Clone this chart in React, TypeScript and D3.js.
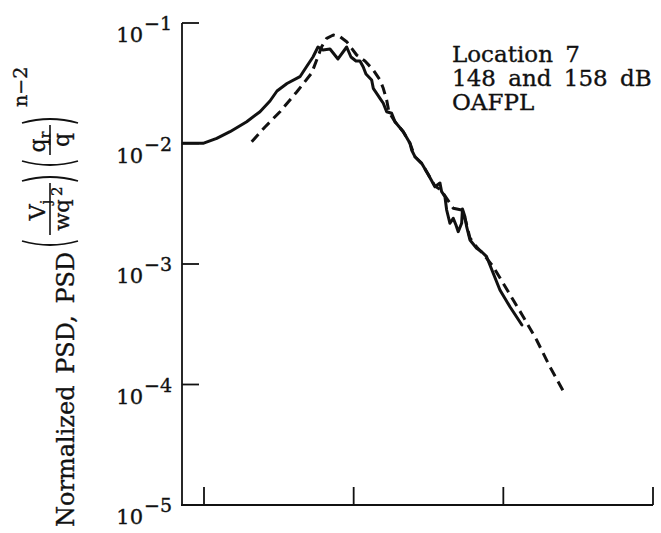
import React from 'react';
import * as d3 from 'd3';

// Normalized frequency (arbitrary log units, axis unlabeled) and normalized PSD
const solidX = [0.724, 0.985, 1.216, 1.492, 1.929, 2.366, 2.76, 3.074, 3.585, 4.377, 4.876, 5.348, 5.775, 6.235, 6.946, 7.857, 8.979, 9.594, 10.36, 11.02, 11.59, 12.08, 13.19, 13.52, 14.24, 14.99, 15.77, 16.61, 17.94, 18.88, 21.45, 23.78, 24.4, 25.67, 28.46, 31.36, 34.92, 37.72, 38.71, 40.73, 41.81, 43.99, 46.27, 48.25, 49.97, 52.66, 53.32, 55.41, 56.87, 59.84, 66.32, 71.61, 77.34, 85.59, 94.91, 110.7, 133.1];
const solidY = [0.01004, 0.01004, 0.01104, 0.01253, 0.01517, 0.01836, 0.02253, 0.02727, 0.03148, 0.03584, 0.04396, 0.05222, 0.06322, 0.05969, 0.06085, 0.05027, 0.06322, 0.05222, 0.04838, 0.04838, 0.04313, 0.03773, 0.03365, 0.02871, 0.0261, 0.02372, 0.02157, 0.01836, 0.01781, 0.01517, 0.01253, 0.01004, 0.008834, 0.007771, 0.006849, 0.005582, 0.00438, 0.0047, 0.003981, 0.003619, 0.002806, 0.002177, 0.002394, 0.002107, 0.001854, 0.002177, 0.00286, 0.00247, 0.002039, 0.001582, 0.00135, 0.001265, 0.00115, 0.0008372, 0.0006085, 0.0004422, 0.0003118];

const dashedX = [2.083, 2.556, 3.219, 4.162, 5.242, 5.66, 6.113, 6.602, 7.308, 8.1, 8.979, 9.696, 10.47, 11.9, 13.52, 14.99, 15.77, 16.61, 17.21, 18.88, 21.45, 23.78, 25.67, 28.46, 31.36, 34.92, 38.3, 41.81, 46.27, 52.66, 56.27, 59.84, 66.32, 73.4, 85.59, 99.84, 116.4, 135.8, 166.9, 204.8, 257.9];
const dashedY = [0.01035, 0.01371, 0.01836, 0.02676, 0.03846, 0.04932, 0.06358, 0.07464, 0.07947, 0.07696, 0.06995, 0.06166, 0.05426, 0.04838, 0.04074, 0.03365, 0.02871, 0.02296, 0.01826, 0.01517, 0.01253, 0.01004, 0.007771, 0.006849, 0.005582, 0.004439, 0.004112, 0.00351, 0.002899, 0.002806, 0.002231, 0.001643, 0.001384, 0.001211, 0.0009497, 0.0006915, 0.0005027, 0.0003653, 0.000234, 0.0001405, 0.0000834];

const yTickExponents = [-1, -2, -3, -4, -5];
const xTickValues = [1, 10, 100, 1000];
const annotationLines = ['Location 7', '148 and 158 dB', 'OAFPL'];

const FONT = 'DejaVu Serif';
const INK = '#111';

export default function App() {
  const x = d3.scaleLog().domain([1, 1000]).range([204, 653]);
  const y = d3.scaleLog().domain([1e-5, 1e-1]).range([505, 23]);
  const line = d3
    .line<[number, number]>()
    .x((d) => x(d[0]))
    .y((d) => y(d[1]))
    .curve(d3.curveLinear);

  const solidPts = solidX.map((v, i) => [v, solidY[i]] as [number, number]);
  const dashedPts = dashedX.map((v, i) => [v, dashedY[i]] as [number, number]);

  const axisX = 182;
  const yTop = y(1e-1);
  const yBot = y(1e-5);

  const parenL = (lx: number, a: number, b: number) =>
    `M${lx + 4},${a} Q${lx - 4},${(a + b) / 2} ${lx + 4},${b}`;
  const parenR = (lx: number, a: number, b: number) =>
    `M${lx - 4},${a} Q${lx + 4},${(a + b) / 2} ${lx - 4},${b}`;

  const txt = { fill: INK, stroke: INK, strokeWidth: 0.35 };

  return (
    <svg
      width={661}
      height={533}
      style={{ position: 'absolute', left: 0, top: 0, background: '#fff' }}
      fontFamily={FONT}
    >
      <rect x={0} y={0} width={661} height={533} fill="#fff" />
      {/* axes */}
      <line x1={axisX} y1={yTop} x2={axisX} y2={yBot} stroke={INK} strokeWidth={1.8} />
      <line x1={axisX - 1} y1={yBot} x2={x(1000)} y2={yBot} stroke={INK} strokeWidth={1.8} />
      {xTickValues.map((t) => (
        <line key={t} x1={x(t)} y1={yBot} x2={x(t)} y2={yBot - 18} stroke={INK} strokeWidth={1.8} />
      ))}
      {yTickExponents.map((e) => {
        const ty = y(Math.pow(10, e));
        return (
          <g key={e}>
            {e !== -5 && (
              <line x1={axisX} y1={ty} x2={axisX + 17} y2={ty} stroke={INK} strokeWidth={1.8} />
            )}
            <text x={143} y={ty + 19} fontSize={21} textAnchor="end" {...txt}>
              10
            </text>
            <text x={144} y={ty + 7} fontSize={19} textAnchor="start" {...txt}>
              {'\u2212' + Math.abs(e)}
            </text>
          </g>
        );
      })}

      {/* curves */}
      <path d={line(solidPts) || ''} fill="none" stroke={INK} strokeWidth={3} strokeLinejoin="round" strokeLinecap="round" />
      <path d={line(dashedPts) || ''} fill="none" stroke={INK} strokeWidth={3} strokeDasharray="10 6" strokeLinejoin="round" />

      {/* annotation */}
      {annotationLines.map((t, i) => (
        <text key={t} x={452} y={62 + i * 24} fontSize={23} wordSpacing={5} {...txt}>
          {t}
        </text>
      ))}

      {/* y-axis label, rotated */}
      <g transform="translate(74,527) rotate(-90)">
        <text x={0} y={0} fontSize={24} wordSpacing={4} {...txt}>
          Normalized PSD, PSD
        </text>
        <path d={parenL(282, -52, 4)} fill="none" stroke={INK} strokeWidth={1.8} />
        <text x={317} y={-29} fontSize={22} textAnchor="middle" {...txt}>
          V<tspan fontSize={14} dy={6}>j</tspan>
        </text>
        <line x1={292} y1={-24} x2={344} y2={-24} stroke={INK} strokeWidth={1.6} />
        <text x={312} y={-5} fontSize={21} textAnchor="middle" {...txt}>
          wq
        </text>
        <text x={331} y={-12} fontSize={15} textAnchor="start" {...txt}>
          2
        </text>
        <path d={parenR(350, -52, 4)} fill="none" stroke={INK} strokeWidth={1.8} />
        <path d={parenL(362, -52, 4)} fill="none" stroke={INK} strokeWidth={1.8} />
        <text x={385} y={-29} fontSize={22} textAnchor="middle" {...txt}>
          q<tspan fontSize={14} dy={5}>r</tspan>
        </text>
        <line x1={372} y1={-24} x2={402} y2={-24} stroke={INK} strokeWidth={1.6} />
        <text x={387} y={-5} fontSize={22} textAnchor="middle" {...txt}>
          q
        </text>
        <path d={parenR(408, -52, 4)} fill="none" stroke={INK} strokeWidth={1.8} />
        <text x={420} y={-47} fontSize={19} {...txt}>
          {'n\u22122'}
        </text>
      </g>
    </svg>
  );
}
